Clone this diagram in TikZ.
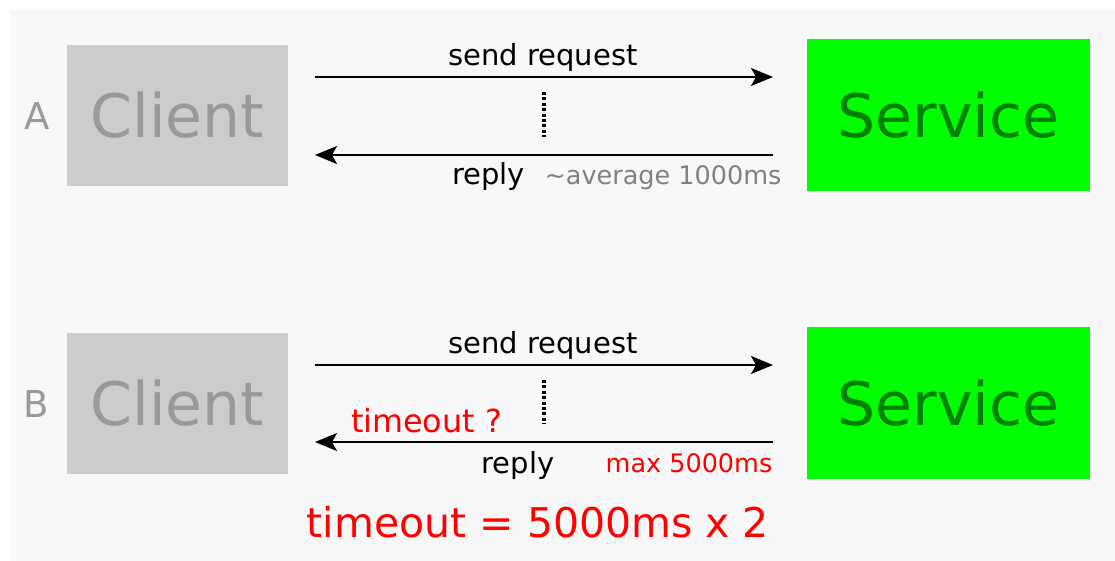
\documentclass[tikz,border=0pt]{standalone}
\usepackage{fontspec}
\setmainfont{DejaVu Sans}
\usetikzlibrary{arrows.meta}
\definecolor{panel}{HTML}{F8F8F8}
\definecolor{clientfill}{HTML}{CCCCCC}
\definecolor{clienttext}{HTML}{999999}
\definecolor{servicefill}{HTML}{00FF00}
\definecolor{servicetext}{HTML}{008000}
\definecolor{notegray}{HTML}{808080}
\definecolor{alert}{HTML}{FF0000}
\tikzset{
  clientbox/.style={fill=clientfill, draw=none, minimum width=221pt, minimum height=141pt,
    inner sep=0pt, text=clienttext, font=\fontsize{60}{60}\selectfont},
  servicebox/.style={fill=servicefill, draw=none, minimum width=283pt, minimum height=152pt,
    inner sep=0pt, text=servicetext, font=\fontsize{60}{60}\selectfont},
  caselabel/.style={anchor=base, inner sep=0pt, text=clienttext, font=\fontsize{37}{37}\selectfont},
  msg/.style={anchor=base, inner sep=0pt, font=\fontsize{29}{29}\selectfont},
  note/.style={anchor=base, inner sep=0pt, font=\fontsize{25.5}{25.5}\selectfont},
  flow/.style={line width=2pt, -{Stealth[length=22pt,width=18pt,inset=5pt]}},
  wait/.style={line width=3.6pt, dash pattern=on 3pt off 2.4pt},
}
\begin{document}
\begin{tikzpicture}[x=1pt, y=-1pt]
  \useasboundingbox (0,0) rectangle (1115,561);
  \fill[white] (0,0) rectangle (1115,561);
  \fill[panel] (11,10) rectangle (1115,561);

  % --- case A: normal round trip
  \node[caselabel] (labA) at (37.5,130) {A};
  \node[clientbox] (cliA) at (177.5,115.5) {Client};
  \node[servicebox] (srvA) at (948.5,115.5) {Service};
  \coordinate (reqA1) at (315,77);
  \coordinate (reqA2) at (773,77);
  \coordinate (repA1) at (773,155);
  \coordinate (repA2) at (315,155);
  \draw[flow] (reqA1) -- (reqA2);
  \draw[flow] (repA1) -- (repA2);
  \coordinate (waitA1) at (544,92);
  \coordinate (waitA2) at (544,137);
  \draw[wait] (waitA1) -- (waitA2);
  \node[msg] (sendA) at (543,66) {send request};
  \node[msg] (replyA) at (488.5,185) {reply};
  \node[note, text=notegray] (avgA) at (663,185) {\char"7E average 1000ms};

  % --- case B: client gives up
  \node[caselabel] (labB) at (36,417) {B};
  \node[clientbox] (cliB) at (177.5,403) {Client};
  \node[servicebox] (srvB) at (948.5,403) {Service};
  \coordinate (reqB1) at (315,365);
  \coordinate (reqB2) at (773,365);
  \coordinate (repB1) at (773,442);
  \coordinate (repB2) at (315,442);
  \draw[flow] (reqB1) -- (reqB2);
  \draw[flow] (repB1) -- (repB2);
  \coordinate (waitB1) at (544,380);
  \coordinate (waitB2) at (544,424);
  \draw[wait] (waitB1) -- (waitB2);
  \node[msg] (sendB) at (543,353) {send request};
  \node[anchor=base, inner sep=0pt, text=alert, font=\fontsize{31.8}{31.8}\selectfont] (toB) at (426.5,432) {timeout ?};
  \node[msg] (replyB) at (518,473) {reply};
  \node[note, text=alert] (maxB) at (689,472) {max 5000ms};

  \node[anchor=base, inner sep=0pt, text=alert, font=\fontsize{41}{41}\selectfont] (total) at (538,537) {timeout = 5000ms x 2};
\end{tikzpicture}
\end{document}
